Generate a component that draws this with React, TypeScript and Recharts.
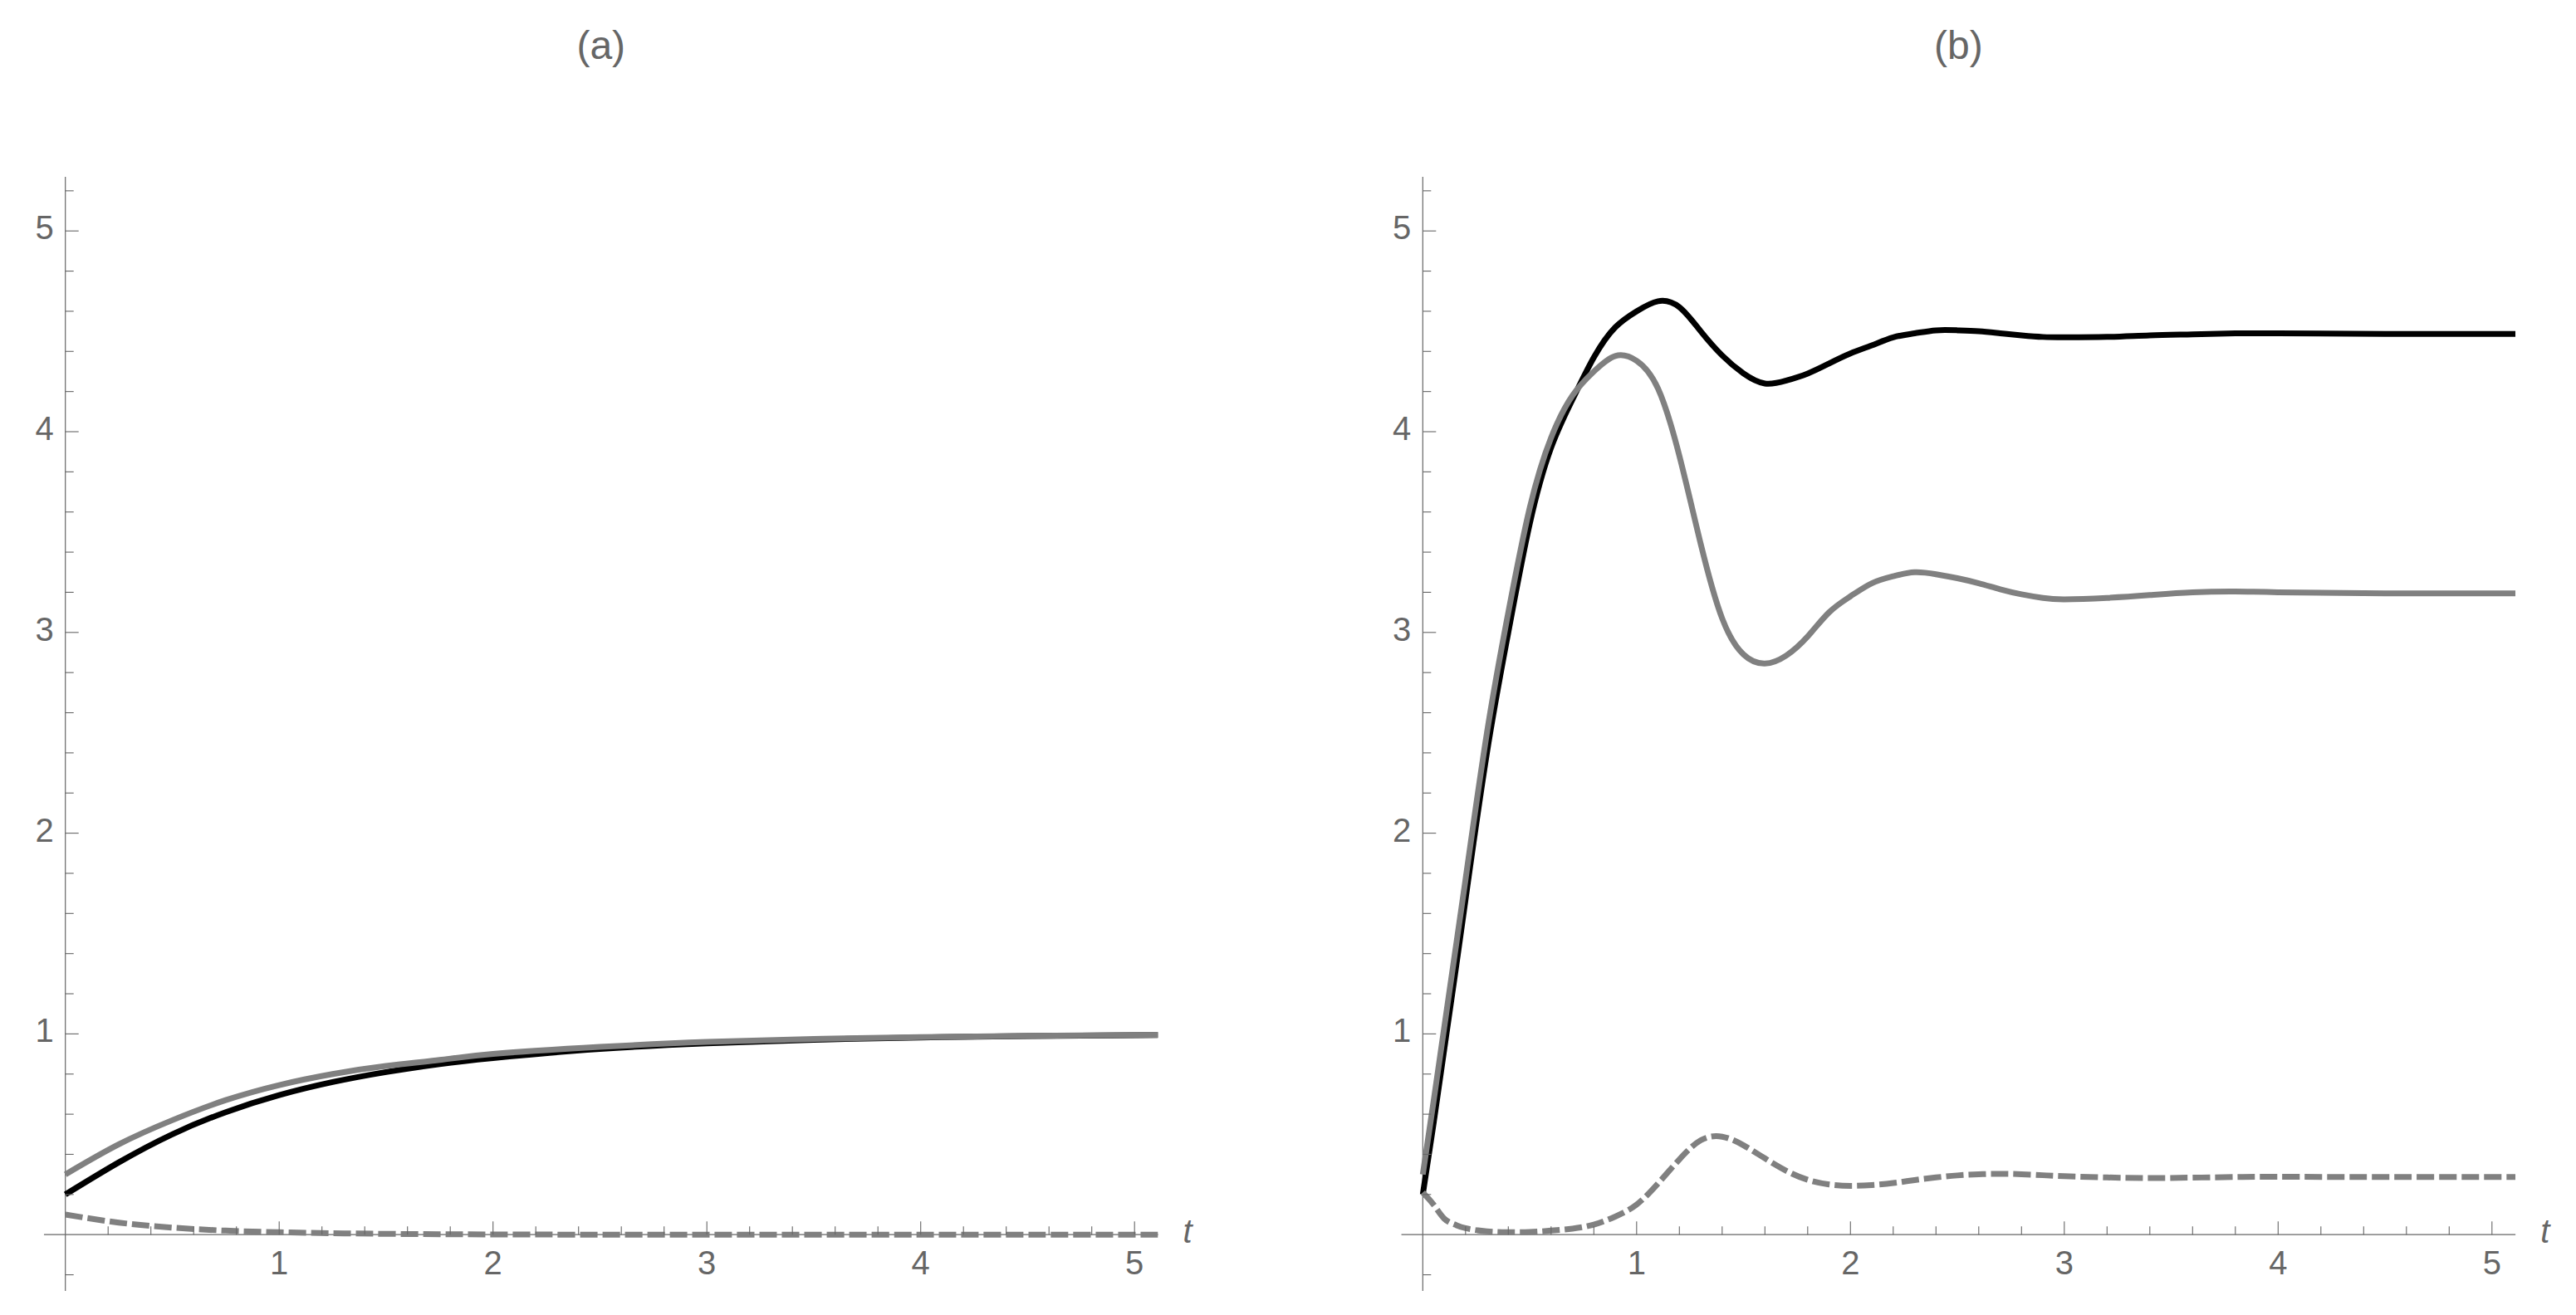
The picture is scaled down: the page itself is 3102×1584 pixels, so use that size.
import React from 'react';
import { LineChart, Line, XAxis, YAxis, ReferenceLine } from 'recharts';

// ---------- data ----------
const tA = [0, 0.25, 0.5, 0.75, 1, 1.25, 1.5, 1.75, 2, 2.5, 3, 3.5, 4, 4.5, 5.11];
const aBlack = [0.2, 0.36, 0.5, 0.61, 0.695, 0.76, 0.81, 0.85, 0.88, 0.925, 0.953, 0.971, 0.982, 0.989, 0.994];
const aGray = [0.3, 0.45, 0.57, 0.67, 0.745, 0.8, 0.84, 0.87, 0.9, 0.935, 0.96, 0.975, 0.984, 0.99, 0.995];
const aDashed = [0.1, 0.06, 0.035, 0.02, 0.012, 0.007, 0.004, 0.002, 0.001, 0, 0, 0, 0, 0, 0];

const tB = [0, 0.05, 0.1, 0.15, 0.2, 0.3, 0.4, 0.5, 0.6, 0.7, 0.8, 0.9, 1.0, 1.1, 1.2, 1.3, 1.4, 1.5, 1.6, 1.7, 1.8, 1.9, 2.0, 2.1, 2.2, 2.3, 2.4, 2.5, 2.6, 2.7, 2.8, 2.9, 3.0, 3.2, 3.4, 3.6, 3.8, 4.0, 4.5, 5.11];
const bBlack = [0.2, 0.55, 0.92, 1.29, 1.67, 2.4, 3.0, 3.54, 3.92, 4.16, 4.37, 4.52, 4.6, 4.65, 4.62, 4.5, 4.38, 4.29, 4.24, 4.255, 4.29, 4.34, 4.39, 4.43, 4.47, 4.49, 4.505, 4.505, 4.5, 4.49, 4.48, 4.472, 4.47, 4.472, 4.48, 4.485, 4.49, 4.49, 4.487, 4.487];
const bGray = [0.3, 0.66, 1.03, 1.4, 1.77, 2.5, 3.1, 3.62, 3.97, 4.18, 4.3, 4.377, 4.353, 4.215, 3.88, 3.44, 3.07, 2.89, 2.845, 2.885, 2.98, 3.1, 3.18, 3.245, 3.28, 3.3, 3.29, 3.27, 3.245, 3.215, 3.19, 3.172, 3.165, 3.172, 3.186, 3.2, 3.204, 3.2, 3.195, 3.195];
const bDashed = [0.21, 0.15, 0.08, 0.05, 0.032, 0.016, 0.012, 0.013, 0.02, 0.03, 0.05, 0.09, 0.15, 0.255, 0.375, 0.47, 0.488, 0.445, 0.38, 0.318, 0.273, 0.25, 0.243, 0.247, 0.257, 0.272, 0.285, 0.295, 0.301, 0.303, 0.301, 0.296, 0.291, 0.285, 0.282, 0.284, 0.287, 0.288, 0.287, 0.287];

const xTicks = [0.2, 0.4, 0.6, 0.8, 1, 1.2, 1.4, 1.6, 1.8, 2, 2.2, 2.4, 2.6, 2.8, 3, 3.2, 3.4, 3.6, 3.8, 4, 4.2, 4.4, 4.6, 4.8, 5];
const yTicks = [-0.2, 0.2, 0.4, 0.6, 0.8, 1, 1.2, 1.4, 1.6, 1.8, 2, 2.2, 2.4, 2.6, 2.8, 3, 3.2, 3.4, 3.6, 3.8, 4, 4.2, 4.4, 4.6, 4.8, 5, 5.2];

const titles = ['(a)', '(b)'];
const axisName = 't';

// ---------- layout ----------
const X_MIN = -0.1, X_MAX = 5.11, Y_MIN = -0.28, Y_MAX = 5.27;
const X_UNIT = 257.5, Y_UNIT = 241.8;
const ORIGIN_Y = 1487.2;
const H = 1584;
const Y_AXIS_W = 30;
const X_AXIS_H = 20;
const AXIS_COLOR = '#666666';
const TEXT_COLOR = '#666666';
const CURVE_GRAY = '#808080';
const FONT = '"Liberation Sans", Arial, Helvetica, sans-serif';

const isMajor = (v: number) => Math.abs(v - Math.round(v)) < 1e-6;

function buildData(t: number[], black: number[], gray: number[], dashed: number[]) {
  return t.map((tv, i) => ({ t: tv, black: black[i], gray: gray[i], dashed: dashed[i] }));
}

const dataA = buildData(tA, aBlack, aGray, aDashed);
const dataB = buildData(tB, bBlack, bGray, bDashed);

function Panel({ left, width, originX, title, data }: any) {
  const top = ORIGIN_Y - Y_MAX * Y_UNIT;
  const plotBottom = ORIGIN_Y - Y_MIN * Y_UNIT;
  const plotLeft = originX + X_MIN * X_UNIT;
  const plotRight = originX + X_MAX * X_UNIT;

  const XTick = (p: any) => {
    const v = p.payload.value;
    const major = isMajor(v);
    return (
      <g>
        <line x1={p.x} x2={p.x} y1={ORIGIN_Y} y2={ORIGIN_Y - (major ? 16 : 10)} stroke={AXIS_COLOR} strokeWidth={1.1} />
        {major && (
          <text x={p.x} y={ORIGIN_Y + 48} textAnchor="middle" fontSize={40} fontFamily={FONT} fill={TEXT_COLOR}>
            {Math.round(v)}
          </text>
        )}
      </g>
    );
  };

  const YTick = (p: any) => {
    const v = p.payload.value;
    const major = isMajor(v);
    return (
      <g>
        <line x1={originX} x2={originX + (major ? 16 : 10)} y1={p.y} y2={p.y} stroke={AXIS_COLOR} strokeWidth={1.1} />
        {major && (
          <text x={originX - 14} y={p.y + 10} textAnchor="end" fontSize={40} fontFamily={FONT} fill={TEXT_COLOR}>
            {Math.round(v)}
          </text>
        )}
      </g>
    );
  };

  return (
    <div style={{ position: 'absolute', left, top: 0, width, height: H }}>
      <LineChart
        width={width}
        height={H}
        data={data}
        margin={{ top, left: plotLeft - Y_AXIS_W, right: width - plotRight, bottom: H - plotBottom - X_AXIS_H }}
      >
        <XAxis
          type="number"
          dataKey="t"
          domain={[X_MIN, X_MAX]}
          ticks={xTicks}
          interval={0}
          axisLine={false}
          tickLine={false}
          height={X_AXIS_H}
          allowDataOverflow
          tick={<XTick />}
        />
        <YAxis
          type="number"
          domain={[Y_MIN, Y_MAX]}
          ticks={yTicks}
          interval={0}
          axisLine={false}
          tickLine={false}
          width={Y_AXIS_W}
          allowDataOverflow
          tick={<YTick />}
        />
        <ReferenceLine x={0} stroke={AXIS_COLOR} strokeWidth={1.2} />
        <ReferenceLine y={0} stroke={AXIS_COLOR} strokeWidth={1.2} />
        <Line type="natural" dataKey="black" stroke="#000000" strokeWidth={7} dot={false} isAnimationActive={false} />
        <Line type="natural" dataKey="gray" stroke={CURVE_GRAY} strokeWidth={7} dot={false} isAnimationActive={false} />
        <Line type="natural" dataKey="dashed" stroke={CURVE_GRAY} strokeWidth={7} strokeDasharray="21 6" dot={false} isAnimationActive={false} />
        <text x={(plotLeft + plotRight) / 2} y={71} textAnchor="middle" fontSize={48} fontFamily={FONT} fill={TEXT_COLOR}>
          {title}
        </text>
        <text x={plotRight + 30} y={ORIGIN_Y + 10} textAnchor="start" fontSize={40} fontStyle="italic" fontFamily={FONT} fill={TEXT_COLOR}>
          {axisName}
        </text>
      </LineChart>
    </div>
  );
}

export default function App() {
  return (
    <div style={{ position: 'absolute', left: 0, top: 0, width: 3102, height: H, background: '#ffffff' }}>
      <Panel left={0} width={1560} originX={78.7} title={titles[0]} data={dataA} />
      <Panel left={1560} width={1542} originX={153.3} title={titles[1]} data={dataB} />
    </div>
  );
}
